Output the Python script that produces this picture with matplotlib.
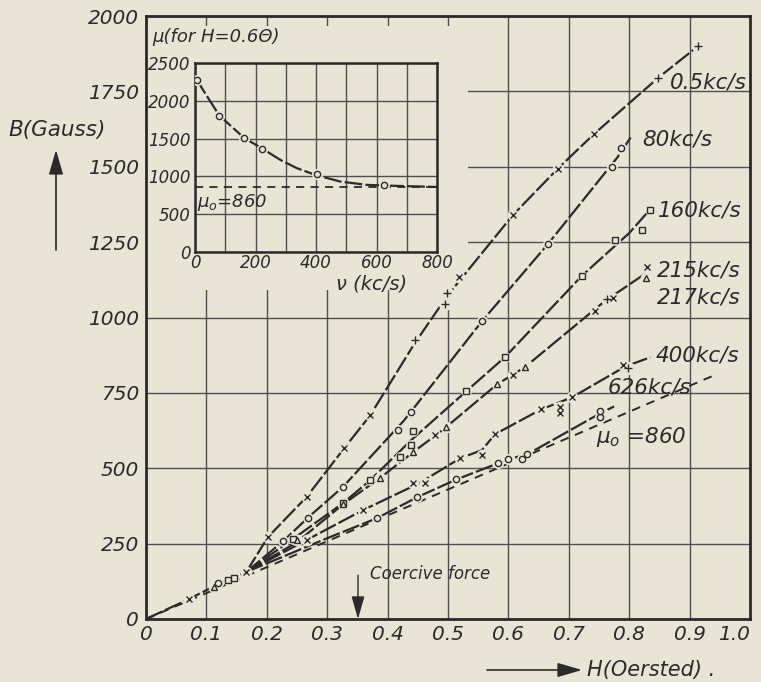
import matplotlib
matplotlib.use("Agg")
import matplotlib.pyplot as plt
from matplotlib.patches import Rectangle

# ---------------- data ----------------
x_ticks = [0.0, 0.1, 0.2, 0.3, 0.4, 0.5, 0.6, 0.7, 0.8, 0.9, 1.0]
x_tick_labels = ["0", "0.1", "0.2", "0.3", "0.4", "0.5", "0.6", "0.7", "0.8", "0.9", "1.0"]
y_ticks = [0, 250, 500, 750, 1000, 1250, 1500, 1750, 2000]
y_tick_labels = ["0", "250", "500", "750", "1000", "1250", "1500", "1750", "2000"]

# common initial part of all curves
common_H = [0.0, 0.071, 0.116, 0.139, 0.166]
common_B = [0, 66, 112, 132, 156]
common_x_H = [0.071, 0.166]
common_x_B = [66, 156]
common_tri_H = [0.112]
common_tri_B = [107]
common_o_H = [0.120]
common_o_B = [121]
common_sq_H = [0.136, 0.145]
common_sq_B = [130, 137]

# 0.5 kc/s
f05_H = [0.166, 0.202, 0.266, 0.328, 0.371, 0.445, 0.500, 0.608, 0.682, 0.742, 0.848, 0.914]
f05_B = [156, 272, 405, 566, 675, 915, 1075, 1341, 1494, 1609, 1795, 1900]
f05_x_H = [0.202, 0.266, 0.328, 0.371, 0.518, 0.608, 0.682, 0.742]
f05_x_B = [272, 405, 566, 675, 1133, 1341, 1494, 1609]
f05_p_H = [0.445, 0.495, 0.499, 0.848, 0.914]
f05_p_B = [924, 1046, 1080, 1795, 1900]

# 80 kc/s
f80_H = [0.166, 0.227, 0.268, 0.326, 0.427, 0.556, 0.666, 0.780, 0.805]
f80_B = [156, 258, 336, 438, 658, 987, 1245, 1530, 1605]
f80_o_H = [0.227, 0.268, 0.326, 0.417, 0.438, 0.556, 0.666, 0.771, 0.786]
f80_o_B = [258, 336, 438, 628, 688, 987, 1245, 1500, 1563]

# 160 kc/s
f160_H = [0.166, 0.243, 0.326, 0.371, 0.440, 0.530, 0.594, 0.722, 0.800, 0.834]
f160_B = [156, 265, 384, 460, 595, 755, 868, 1139, 1280, 1357]
f160_s_H = [0.243, 0.326, 0.371, 0.420, 0.438, 0.442, 0.530, 0.594, 0.722, 0.776, 0.821, 0.834]
f160_s_B = [265, 384, 460, 537, 576, 623, 755, 868, 1139, 1258, 1290, 1357]

# 215 / 217 kc/s (one line, two marker kinds)
f215_H = [0.166, 0.250, 0.326, 0.387, 0.442, 0.490, 0.581, 0.627, 0.760, 0.830]
f215_B = [156, 255, 380, 467, 553, 625, 778, 835, 1055, 1150]
f215_x_H = [0.478, 0.608, 0.743, 0.773, 0.829]
f215_x_B = [609, 808, 1023, 1066, 1166]
f215_p_H = [0.763]
f215_p_B = [1063]
f217_t_H = [0.250, 0.326, 0.387, 0.442, 0.497, 0.581, 0.627, 0.828]
f217_t_B = [262, 380, 467, 553, 636, 778, 835, 1132]

# 400 kc/s
f400_H = [0.166, 0.266, 0.359, 0.452, 0.520, 0.556, 0.578, 0.654, 0.705, 0.794, 0.835]
f400_B = [156, 262, 361, 450, 533, 560, 613, 695, 735, 838, 868]
f400_x_H = [0.266, 0.359, 0.442, 0.462, 0.520, 0.556, 0.578, 0.654, 0.685, 0.685, 0.705, 0.790]
f400_x_B = [262, 361, 450, 450, 533, 543, 613, 695, 702, 682, 735, 841]
f400_p_H = [0.798]
f400_p_B = [834]

# 626 kc/s
f626_H = [0.166, 0.300, 0.382, 0.449, 0.513, 0.600, 0.631, 0.752, 0.775]
f626_B = [156, 268, 334, 404, 462, 530, 546, 682, 705]
f626_o_H = [0.382, 0.449, 0.513, 0.583, 0.600, 0.623, 0.631, 0.752, 0.752]
f626_o_B = [334, 404, 464, 517, 530, 530, 546, 670, 690]

# mu0 = 860 reference line
mu0_H = [0.0, 0.945]
mu0_B = [0, 812]

# inset: mu at H = 0.6 Oe versus frequency
inset_nu_line = [3, 39, 80, 162, 221, 281, 336, 397, 480, 568, 629, 800]
inset_mu_line = [2296, 2065, 1807, 1510, 1372, 1221, 1110, 1021, 932, 888, 879, 860]
inset_nu_pts = [5, 80, 162, 221, 402, 626]
inset_mu_pts = [2270, 1803, 1508, 1367, 1027, 882]
inset_mu0_nu = [0, 800]
inset_mu0_mu = [860, 860]
inset_x_ticks = [0, 200, 400, 600, 800]
inset_x_minor = [100, 300, 500, 700]
inset_y_ticks = [0, 500, 1000, 1500, 2000, 2500]

# ---------------- style ----------------
BG = "#e9e5d6"
INK = "#2a2a2a"
GRID = "#4e4e4e"

plt.rcParams["font.family"] = ["DejaVu Sans"]
plt.rcParams["font.style"] = "italic"
plt.rcParams["mathtext.fontset"] = "dejavusans"
plt.rcParams["mathtext.default"] = "it"
plt.rcParams["text.color"] = INK

fig = plt.figure(figsize=(7.61, 6.82), dpi=100, facecolor=BG)
ax = fig.add_axes([146 / 761, 63 / 682, 604 / 761, 603 / 682], facecolor=BG)

ax.set_xlim(0, 1.0)
ax.set_ylim(0, 2000)
ax.set_xticks(x_ticks)
ax.set_xticklabels(x_tick_labels)
ax.set_yticks(y_ticks)
ax.set_yticklabels(y_tick_labels)
ax.tick_params(axis="both", length=0, labelsize=14.5, colors=INK)
ax.tick_params(axis="x", pad=4)
ax.tick_params(axis="y", pad=5)
ax.get_xticklabels()[-1].set_horizontalalignment("right")
ax.set_axisbelow(True)
ax.grid(True, color=GRID, lw=1.0)
for s in ax.spines.values():
    s.set_linewidth(2.0)
    s.set_color(INK)

# cover the grid where the inset sits (leaves short ticks along top)
ax.add_patch(Rectangle((0, 1090), 0.533, 877, facecolor=BG, edgecolor="none", zorder=1))

LS = (0, (8, 1.4))
LW = 1.6


def line(a, H, B, ls=LS, lw=LW):
    a.plot(H, B, color=INK, lw=lw, linestyle=ls, dash_capstyle="butt", zorder=3)


def marks(a, H, B, m, ms):
    a.plot(H, B, linestyle="none", marker="o", ms=ms + 2.5, mfc=BG, mec=BG, zorder=4)
    a.plot(H, B, linestyle="none", marker=m, ms=ms, mfc=BG, mec=INK, mew=1.0, zorder=5)


line(ax, common_H, common_B)
line(ax, f05_H, f05_B)
line(ax, f80_H, f80_B)
line(ax, f160_H, f160_B)
line(ax, f215_H, f215_B)
line(ax, f400_H, f400_B)
line(ax, f626_H, f626_B)
line(ax, mu0_H, mu0_B, ls=(0, (4.5, 3.5)), lw=1.4)

marks(ax, common_x_H, common_x_B, "x", 5)
marks(ax, common_tri_H, common_tri_B, "^", 5)
marks(ax, common_o_H, common_o_B, "o", 4.5)
marks(ax, common_sq_H, common_sq_B, "s", 4)
marks(ax, f05_x_H, f05_x_B, "x", 5)
marks(ax, f05_p_H, f05_p_B, "+", 6)
marks(ax, f80_o_H, f80_o_B, "o", 4.5)
marks(ax, f160_s_H, f160_s_B, "s", 4.2)
marks(ax, f215_x_H, f215_x_B, "x", 5)
marks(ax, f215_p_H, f215_p_B, "+", 6)
marks(ax, f217_t_H, f217_t_B, "^", 5)
marks(ax, f400_x_H, f400_x_B, "x", 5)
marks(ax, f400_p_H, f400_p_B, "+", 6)
marks(ax, f626_o_H, f626_o_B, "o", 4.5)

lab = dict(fontsize=15.5, ha="left", va="center", zorder=6)
ax.text(0.868, 1778, "0.5kc/s", **lab)
ax.text(0.821, 1592, "80kc/s", **lab)
ax.text(0.848, 1354, "160kc/s", **lab)
ax.text(0.846, 1156, "215kc/s", **lab)
ax.text(0.846, 1066, "217kc/s", **lab)
ax.text(0.843, 874, "400kc/s", **lab)
ax.text(0.765, 767, "626kc/s", **lab)
ax.text(0.745, 603, r"$\mu_{o}$ =860", **lab)

# coercive force
ax.text(0.371, 148, "Coercive force", fontsize=12, ha="left", va="center")
ax.annotate("", xy=(0.351, 0), xytext=(0.351, 145),
            arrowprops=dict(arrowstyle="-|>,head_length=0.7,head_width=0.2",
                            color=INK, lw=1.0, shrinkA=0, shrinkB=0, mutation_scale=20))

# axis labels
fig.text(8 / 761, 1 - 130 / 682, "B(Gauss)", fontsize=15.5, ha="left", va="center")
ax.annotate("", xy=(56, 682 - 150), xytext=(56, 682 - 250), xycoords="figure pixels",
            textcoords="figure pixels",
            arrowprops=dict(arrowstyle="-|>,head_length=0.75,head_width=0.22",
                            color=INK, lw=1.2, shrinkA=0, shrinkB=0, mutation_scale=20))
fig.text(587 / 761, 12 / 682, "H(Oersted) .", fontsize=15, ha="left", va="center")
ax.annotate("", xy=(582, 12), xytext=(487, 12), xycoords="figure pixels",
            textcoords="figure pixels",
            arrowprops=dict(arrowstyle="-|>,head_length=0.75,head_width=0.22",
                            color=INK, lw=1.2, shrinkA=0, shrinkB=0, mutation_scale=20))

# ---------------- inset ----------------
ins = fig.add_axes([195 / 761, 1 - 252 / 682, 242 / 761, 189 / 682], facecolor=BG)
ins.set_xlim(0, 800)
ins.set_ylim(0, 2500)
ins.set_xticks(inset_x_ticks)
ins.set_xticks(inset_x_minor, minor=True)
ins.set_yticks(inset_y_ticks)
ins.tick_params(axis="both", which="both", length=0, labelsize=12, colors=INK)
ins.tick_params(axis="x", pad=1.5)
ins.tick_params(axis="y", pad=3)
ins.set_axisbelow(True)
ins.grid(True, which="both", color=GRID, lw=1.0)
for s in ins.spines.values():
    s.set_linewidth(1.8)
    s.set_color(INK)

line(ins, inset_nu_line, inset_mu_line)
line(ins, inset_mu0_nu, inset_mu0_mu, ls=(0, (4.5, 3.5)), lw=1.3)
marks(ins, inset_nu_pts, inset_mu_pts, "o", 4.5)
ins.text(8, 660, r"$\mu_{o}$=860", fontsize=13, ha="left", va="center")

fig.text(152 / 761, 1 - 37 / 682, "μ(for H=0.6Θ)", fontsize=13, ha="left", va="center")
fig.text(372 / 761, 1 - 284 / 682, "ν (kc/s)", fontsize=14, ha="center", va="center")

fig.savefig("out.png", dpi=100, facecolor=BG)
